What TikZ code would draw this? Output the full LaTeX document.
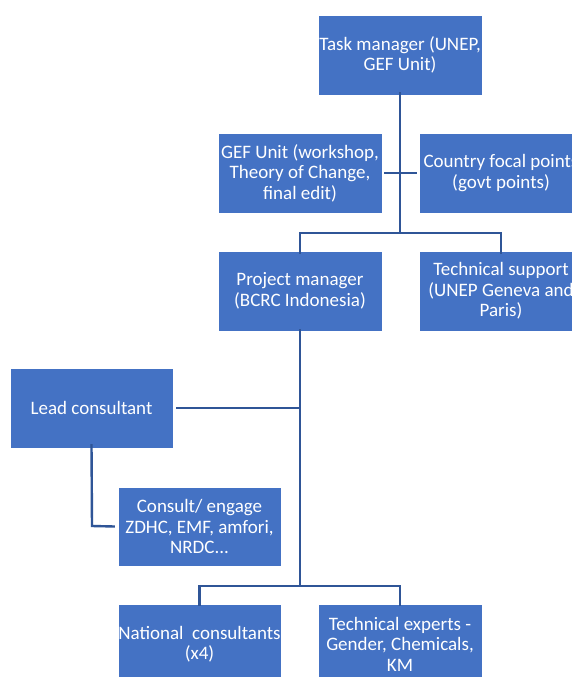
\documentclass[tikz,border=0pt]{standalone}
\usepackage{fontspec}
\setmainfont{Carlito}
\definecolor{boxfill}{HTML}{4472C4}
\definecolor{linecol}{HTML}{2F5597}
\begin{document}
\begin{tikzpicture}[x=1pt,y=-1pt,
  orgbox/.style={rectangle, fill=boxfill, draw=white, line width=0.4pt, minimum width=164pt, minimum height=80pt, text=white, align=center, inner sep=0pt, font=\fontsize{19}{20.5}\selectfont},
  conn/.style={draw=linecol, line width=2.4pt}]
\useasboundingbox (0,0) rectangle (572,677);
\clip (0,0) rectangle (572,677);
\fill[white] (0,0) rectangle (572,677);
\node[orgbox] (task) at (400,55) {Task manager (UNEP,\\GEF Unit)};
\node[orgbox] (gef) at (300,173) {GEF Unit (workshop,\\Theory of Change,\\final edit)};
\node[orgbox] (cfp) at (501,173) {Country focal points\\(govt points)};
\node[orgbox] (pm) at (300,291) {Project manager\\(BCRC Indonesia)};
\node[orgbox] (ts) at (501,291) {Technical support\\(UNEP Geneva and\\Paris)};
\node[orgbox, minimum width=163pt] (lead) at (91.5,408) {Lead consultant};
\node[orgbox, minimum width=163pt, minimum height=79pt] (consult) at (199.5,526.5) {Consult/ engage\\ZDHC, EMF, amfori,\\NRDC...};
\node[orgbox, minimum width=163pt] (natl) at (199.5,644) {National\ \ consultants\\(x4)};
\node[orgbox] (tech) at (400,644) {Technical experts -\\Gender, Chemicals,\\KM};
\coordinate (b1) at (400,233);
\coordinate (b2) at (300,586);
\coordinate (b3) at (300,408);
\coordinate (l1) at (92,526);
% top tree
\draw[conn] ([yshift=3pt]task.south) -- (b1);
\draw[conn, shorten <=2pt, shorten >=2pt] (gef.east) -- (cfp.west);
\draw[conn] (b1) -- (b1 -| pm.north) -- ([yshift=-3pt]pm.north);
\draw[conn] (b1) -- (b1 -| ts.north) -- ([yshift=-3pt]ts.north);
% project manager trunk
\draw[conn] ([yshift=2pt]pm.south) -- (b2);
\draw[conn, shorten <=3pt] (lead.east) -- (b3);
\draw[conn] ([yshift=4pt]lead.south) -- (l1) -- ([xshift=-3pt]consult.west);
\draw[conn] (b2) -- (b2 -| natl.north) -- ([yshift=-2pt]natl.north);
\draw[conn] (b2) -- (b2 -| tech.north) -- ([yshift=-2pt]tech.north);
\end{tikzpicture}
\end{document}
